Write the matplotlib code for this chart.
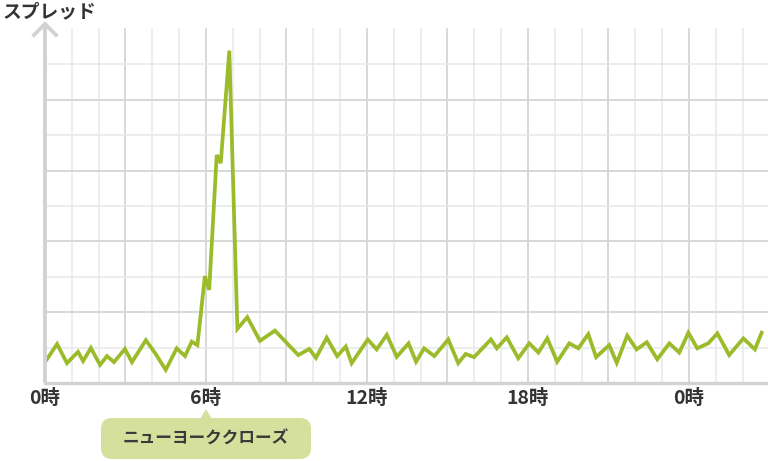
import matplotlib
matplotlib.use("Agg")
import matplotlib.pyplot as plt
from matplotlib.patches import FancyBboxPatch, Polygon
from matplotlib.lines import Line2D

plt.rcParams['font.family'] = ['Noto Sans CJK JP', 'DejaVu Sans']

# data: time (hours from 0時) and spread value
hours = [0.00, 0.45, 0.82, 1.23, 1.42, 1.71, 2.05, 2.31, 2.57, 2.98, 3.24, 3.76, 4.10, 4.50,
         4.91, 5.22, 5.47, 5.68, 5.96, 6.12, 6.40, 6.55, 6.87, 7.17, 7.54, 8.01, 8.57,
         9.44, 9.85, 10.10, 10.50, 10.89, 11.21, 11.43, 12.03, 12.36, 12.74, 13.11, 13.55,
         13.83, 14.13, 14.51, 15.03, 15.40, 15.68, 15.99, 16.62, 16.84, 17.21, 17.64, 18.05,
         18.39, 18.72, 19.09, 19.54, 19.88, 20.25, 20.54, 21.03, 21.31, 21.70, 22.05, 22.43,
         22.82, 23.27, 23.64, 23.98, 24.31, 24.72, 25.06, 25.50, 26.03, 26.46, 26.71]
spread = [0.59, 1.10, 0.56, 0.88, 0.62, 0.99, 0.51, 0.76, 0.59, 0.96, 0.59, 1.21, 0.85, 0.37,
          0.98, 0.76, 1.17, 1.07, 3.02, 2.63, 6.44, 6.21, 9.39, 1.53, 1.86, 1.19, 1.48,
          0.79, 0.96, 0.71, 1.28, 0.76, 1.03, 0.56, 1.23, 0.95, 1.36, 0.74, 1.12,
          0.60, 0.98, 0.76, 1.23, 0.56, 0.82, 0.73, 1.23, 0.98, 1.29, 0.70, 1.12,
          0.86, 1.26, 0.60, 1.12, 0.98, 1.38, 0.73, 1.07, 0.57, 1.34, 0.95, 1.15,
          0.67, 1.12, 0.86, 1.42, 0.98, 1.12, 1.40, 0.79, 1.26, 0.95, 1.42]
tick_pos = [0, 6, 12, 18, 24]
tick_labels = ['0時', '6時', '12時', '18時', '0時']
y_label = 'スプレッド'
note = 'ニューヨーククローズ'
note_hour = 6

W, H = 768, 461
fig = plt.figure(figsize=(W / 100, H / 100), dpi=100)
ax_l, ax_r, ax_t, ax_b = 45, 768, 28, 383
ax = fig.add_axes([ax_l / W, (H - ax_b) / H, (ax_r - ax_l) / W, (ax_b - ax_t) / H])
xmax = (ax_r - ax_l) / 26.83
ymax = (ax_b - ax_t) / 35.4
ax.set_xlim(0, xmax)
ax.set_ylim(0, ymax)

grid_minor = '#e8e8e8'
grid_major = '#d6d6d6'
for h in range(1, int(xmax) + 1):
    ax.axvline(h, color=grid_major if h % 3 == 0 else grid_minor, lw=1.3 if h % 3 == 0 else 1.1, zorder=0)
for v in range(1, 10):
    ax.axhline(v, color=grid_major if v % 2 == 0 else grid_minor, lw=1.3 if v % 2 == 0 else 1.1, zorder=0)

ax.plot(hours, spread, color='#9bbb2b', lw=2.7, solid_joinstyle='miter', zorder=3)

for s in ['top', 'right', 'left']:
    ax.spines[s].set_visible(False)
ax.spines['bottom'].set_color('#d2d2d2')
ax.spines['bottom'].set_linewidth(2.4)
ax.set_yticks([])
ax.set_xticks(tick_pos)
ax.set_xticklabels(tick_labels, fontsize=14, fontweight='bold', color='#333333')
ax.tick_params(axis='x', length=0, pad=4.5)

# y axis with arrow head (in pixel-inch coords)
axis_col = '#d2d2d2'
tr = fig.dpi_scale_trans
def P(px, py):
    return (px / 100, (H - py) / 100)
fig.add_artist(Line2D([P(45, 383)[0], P(45, 24)[0]], [P(45, 383)[1], P(45, 24)[1]],
                      transform=tr, color=axis_col, lw=2.8, solid_capstyle='butt'))
xs = [P(34, 35)[0], P(45, 24)[0], P(56, 35)[0]]
ys = [P(34, 35)[1], P(45, 24)[1], P(56, 35)[1]]
fig.add_artist(Line2D(xs, ys, transform=tr, color=axis_col, lw=2.8, solid_joinstyle='miter'))

fig.text(3 / W, (H - 12) / H, y_label, fontsize=13.5, fontweight='bold', color='#333333',
         ha='left', va='center')

# annotation bubble
box_col = '#d4e09c'
bx0, bx1, by0, by1 = 101, 311, 418, 459
fig.add_artist(FancyBboxPatch(P(bx0, by1), (bx1 - bx0) / 100, (by1 - by0) / 100,
                              boxstyle='round,pad=0,rounding_size=0.11', transform=tr,
                              facecolor=box_col, edgecolor='none'))
cx = ax_l + note_hour * 26.83
fig.add_artist(Polygon([P(cx - 6, by0 + 1), P(cx, 409), P(cx + 6, by0 + 1)], closed=True,
                       transform=tr, facecolor=box_col, edgecolor='none'))
fig.text(cx / W, (H - 439) / H, note, fontsize=12, fontweight='bold', color='#3a3a3a',
         ha='center', va='center')

fig.savefig('out.png', dpi=100)
